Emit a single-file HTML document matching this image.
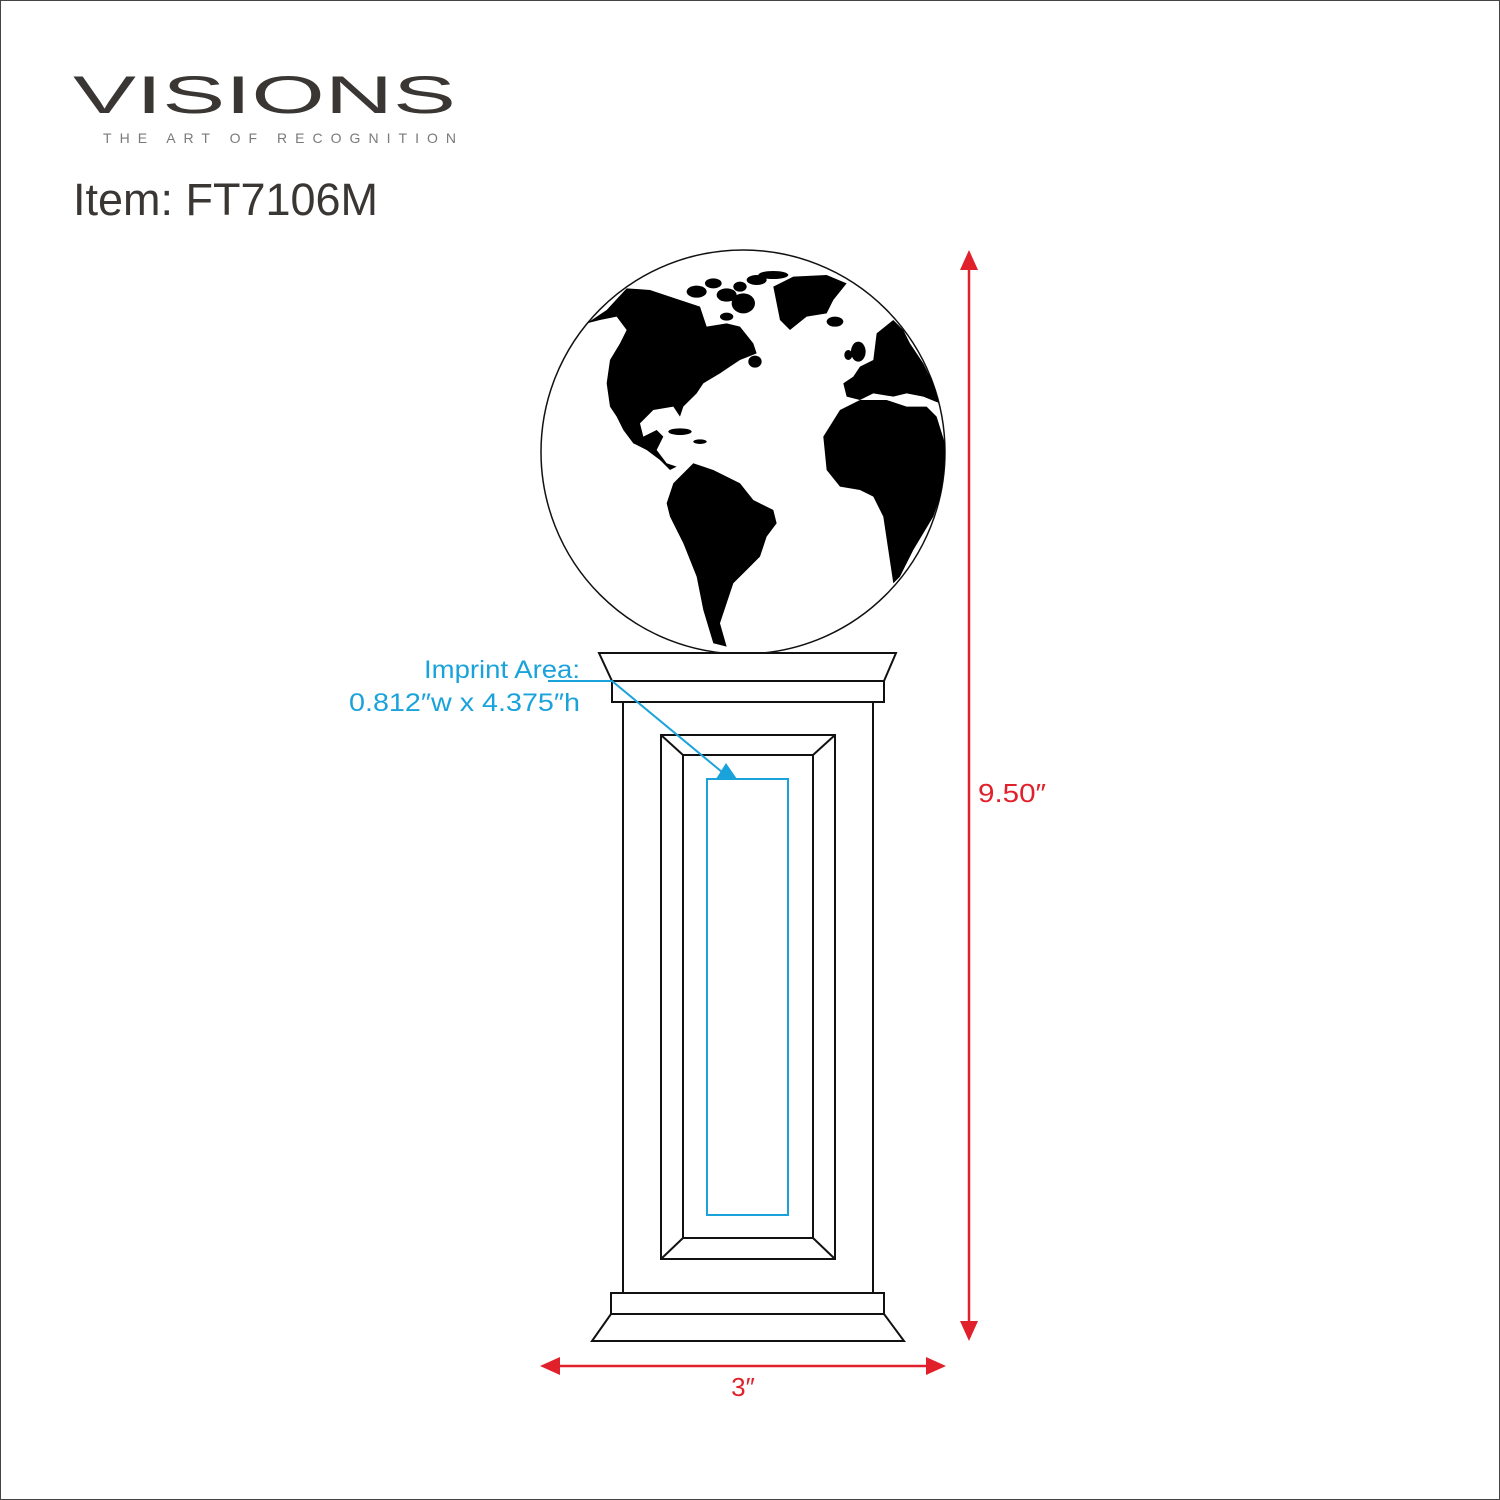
<!DOCTYPE html>
<html><head><meta charset="utf-8"><style>html,body{margin:0;padding:0;background:#fff}svg{display:block}</style></head>
<body>
<svg width="1500" height="1500" viewBox="0 0 1500 1500" xmlns="http://www.w3.org/2000/svg" font-family="Liberation Sans, sans-serif">
<rect x="0.5" y="0.5" width="1499" height="1499" fill="#fff" stroke="#444" stroke-width="1"/>
<text x="73" y="113" font-size="53" fill="#3a3633" textLength="383" lengthAdjust="spacingAndGlyphs">VISIONS</text>
<text x="103" y="143" font-size="14" fill="#7a7a7a" textLength="353" lengthAdjust="spacing">THE ART OF RECOGNITION</text>
<text x="73" y="215" font-size="45" fill="#3a3633" textLength="305" lengthAdjust="spacingAndGlyphs">Item: FT7106M</text>

<defs><clipPath id="c"><circle cx="743" cy="452" r="202"/></clipPath></defs>
<circle cx="743" cy="452" r="202" fill="#fff" stroke="#111" stroke-width="1.5"/>
<g clip-path="url(#c)"><g transform="translate(540,250) scale(0.3333)" fill="#000">
<path d="M140,220 L200,180 260,115 330,120 420,150 480,170 500,230 560,220 600,230 640,280 650,310 600,330 570,350 540,370 490,400 470,430 430,470 420,500 400,470 340,480 300,520 310,560 350,540 370,560 350,600 380,640 410,650 390,660 360,630 320,600 280,580 250,540 230,500 210,470 200,400 210,330 240,280 260,240 230,200 180,210Z"/>
<ellipse cx="470" cy="125" rx="30" ry="18"/><ellipse cx="520" cy="100" rx="25" ry="15"/><ellipse cx="560" cy="135" rx="30" ry="20"/>
<ellipse cx="610" cy="160" rx="35" ry="30"/><ellipse cx="600" cy="110" rx="20" ry="15"/><ellipse cx="650" cy="90" rx="30" ry="15"/>
<ellipse cx="700" cy="75" rx="45" ry="12"/><ellipse cx="560" cy="200" rx="20" ry="12"/><ellipse cx="645" cy="335" rx="20" ry="18"/>
<path d="M700,110 L760,80 860,75 920,100 880,150 860,190 800,200 750,240 720,210 710,160Z"/>
<ellipse cx="885" cy="215" rx="25" ry="15"/>
<path d="M380,760 L400,700 460,640 520,660 600,700 640,750 700,780 710,820 680,860 660,920 620,960 580,1000 560,1060 540,1120 560,1190 520,1180 490,1080 470,980 430,880 390,800Z"/>
<path d="M850,560 L900,480 960,450 1040,450 1100,470 1160,470 1190,500 1215,580 1215,700 1180,800 1120,900 1080,980 1060,1000 1045,900 1030,800 1000,740 960,720 900,710 860,660Z"/>
<path d="M910,400 L940,380 960,350 1000,330 1010,250 1060,210 1090,240 1110,280 1150,340 1190,420 1200,460 1150,440 1100,430 1060,440 1000,430 960,450 920,440Z"/>
<ellipse cx="955" cy="305" rx="22" ry="30"/><ellipse cx="925" cy="315" rx="12" ry="15"/>
<ellipse cx="420" cy="545" rx="35" ry="10"/><ellipse cx="480" cy="575" rx="20" ry="7"/>
</g></g>

<g fill="#fff" stroke="#111" stroke-width="2">
<polygon points="599,653 896,653 884,681 612,681"/>
<rect x="612" y="681" width="272" height="21"/>
<rect x="623" y="702" width="250" height="591"/>
<rect x="661" y="735" width="174" height="524"/>
<rect x="683" y="755" width="130" height="483"/>
<line x1="661" y1="735" x2="683" y2="755"/><line x1="835" y1="735" x2="813" y2="755"/>
<line x1="661" y1="1259" x2="683" y2="1238"/><line x1="835" y1="1259" x2="813" y2="1238"/>
<rect x="611" y="1293" width="273" height="21"/>
<polygon points="611,1314 884,1314 904,1341 592,1341"/>
</g>
<rect x="707" y="779" width="81" height="436" fill="none" stroke="#1aa3db" stroke-width="2"/>
<polyline points="548,681 612,681 722,772" fill="none" stroke="#1aa3db" stroke-width="2"/>
<polygon points="726,763 716,779 737,779" fill="#1aa3db"/>
<text x="424" y="678" font-size="25" fill="#1aa3db" textLength="156" lengthAdjust="spacingAndGlyphs">Imprint Area:</text>
<text x="349" y="711" font-size="25" fill="#1aa3db" textLength="231" lengthAdjust="spacingAndGlyphs">0.812″w x 4.375″h</text>

<g stroke="#e0202a" stroke-width="2.5" fill="#e0202a">
<line x1="969" y1="262" x2="969" y2="1328"/>
<polygon points="969,250 960,270 978,270" stroke="none"/>
<polygon points="969,1341 960,1321 978,1321" stroke="none"/>
<line x1="552" y1="1366" x2="933" y2="1366"/>
<polygon points="540,1366 560,1357 560,1375" stroke="none"/>
<polygon points="946,1366 926,1357 926,1375" stroke="none"/>
</g>
<text x="978" y="802" font-size="26" fill="#e0202a" textLength="68" lengthAdjust="spacingAndGlyphs">9.50″</text>
<text x="743" y="1396" font-size="26" fill="#e0202a" text-anchor="middle">3″</text>
</svg>
</body></html>
